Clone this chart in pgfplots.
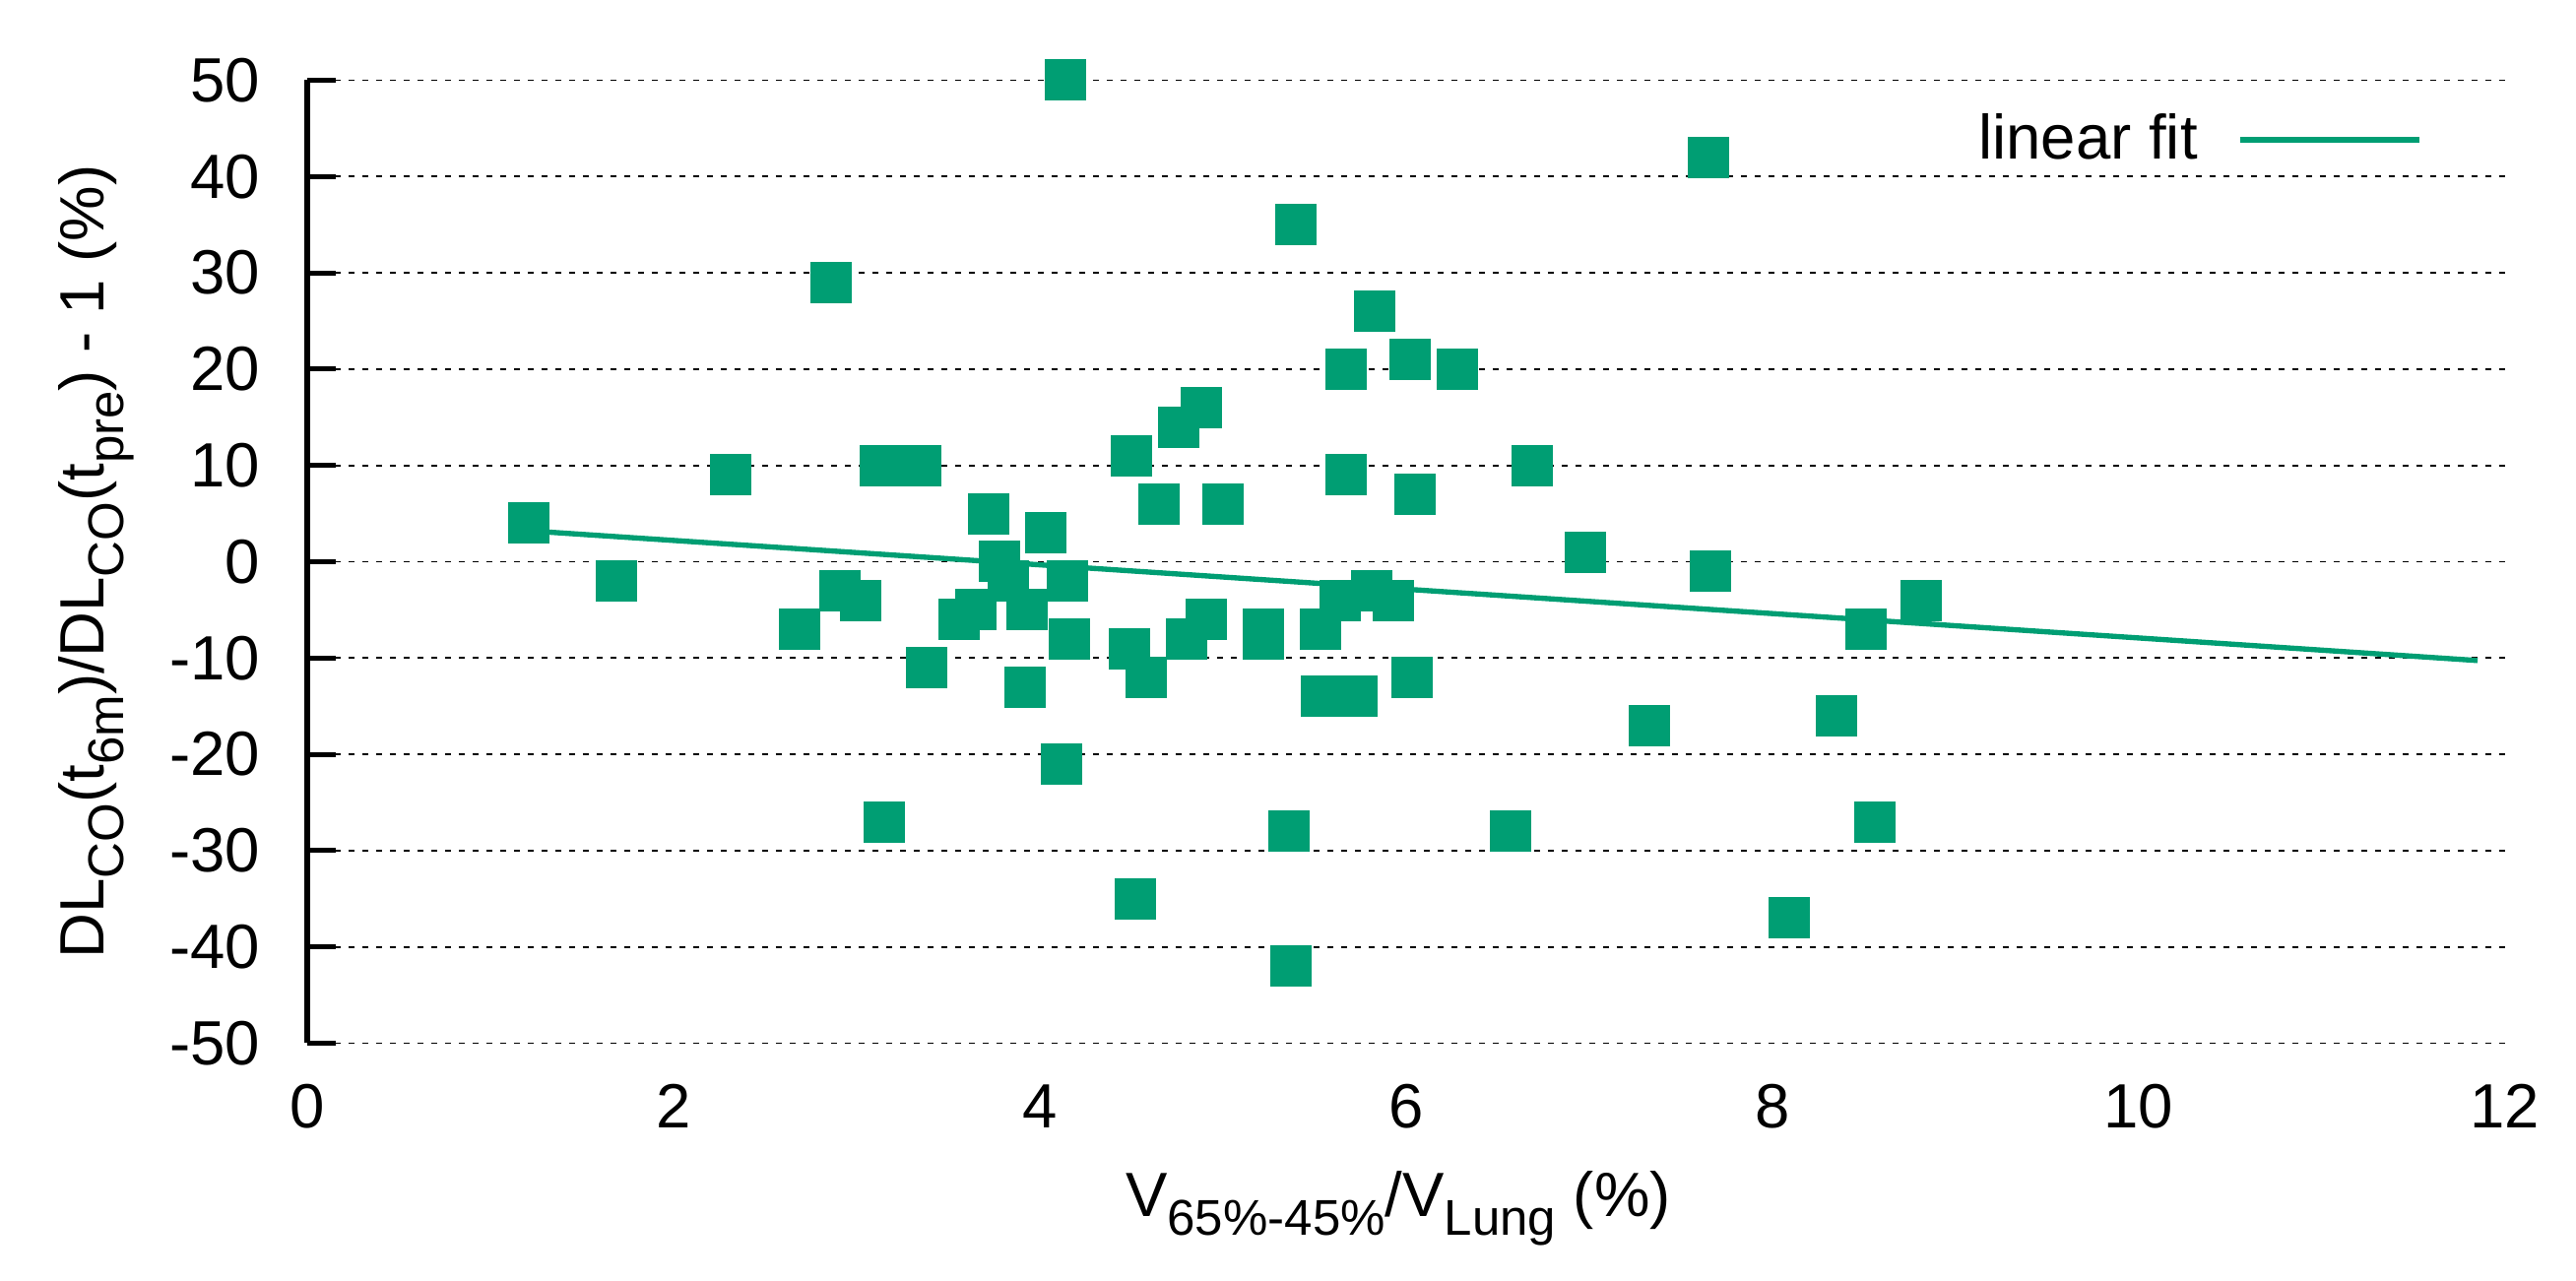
\documentclass[border=0pt]{standalone}
\usepackage{fontspec}
\setmainfont{Liberation Sans}
\usepackage{pgfplots}
\pgfplotsset{compat=1.18}
\definecolor{gnugreen}{HTML}{009E73}
\newcommand{\sub}[1]{\raisebox{-0.3em}{\fontsize{10.2}{12}\selectfont #1}}
\begin{document}
\begin{tikzpicture}
  \useasboundingbox (-62.4pt,-48.3pt) rectangle (460.8pt,211.9pt);
  \begin{axis}[
      scale only axis,
      width=446.4pt,
      height=195.6pt,
      xmin=0, xmax=12,
      ymin=-50, ymax=50,
      axis lines*=left,
      x axis line style={draw=none},
      y axis line style={line width=1.15pt},
      xtick={0,2,4,6,8,10,12},
      xticklabels={0,2,4,6,8,10,12},
      ytick={-50,-40,-30,-20,-10,0,10,20,30,40,50},
      yticklabels={-50,-40,-30,-20,-10,0,10,20,30,40,50},
      xtick style={draw=none},
      ytick style={line width=1pt, black},
      tick align=inside,
      major tick length=5.8pt,
      ymajorgrids,
      grid style={black, line width=0.35pt, dash pattern=on 1.3pt off 1.5pt},
      tick label style={font=\fontsize{12.7}{15}\selectfont},
      xticklabel style={anchor=north, inner sep=0pt, yshift=-8.2pt},
      yticklabel style={anchor=east, inner sep=0pt, xshift=-9.4pt},
      label style={font=\fontsize{12.7}{15}\selectfont},
      xlabel={V\sub{65\%-45\%}/V\sub{Lung} (\%)},
      xlabel style={at={(axis description cs:0.4964,-0.1795)}, anchor=base, inner sep=0pt},
      ylabel={DL\sub{CO}(t\sub{6m})/DL\sub{CO}(t\sub{pre}) - 1 (\%)},
      ylabel style={at={(axis description cs:-0.0923,0.5)}, anchor=base, inner sep=0pt},
      legend style={
        at={(0.962,0.938)},
        anchor=east,
        draw=none,
        fill=none,
        inner sep=0pt,
        outer sep=0pt,
        font=\fontsize{12.7}{15}\selectfont,
        nodes={inner sep=0pt},
        /tikz/column sep=8pt
      },
      legend plot pos=right,
      legend cell align=right,
      legend image code/.code={\draw[#1] (0pt,0pt) -- (36.4pt,0pt);},
    ]
    % fit line
    \addplot[gnugreen, line width=1.07pt, no marks]
      coordinates {(1.21,3.21) (11.85,-10.26)};
    \addlegendentry{linear fit}

    % measured points
    \addplot[
      gnugreen,
      only marks,
      mark=square*,
      mark size=4.1pt,
      mark options={draw=gnugreen, fill=gnugreen, line width=0pt},
      forget plot
    ]
    table[row sep=\\] {
      x     y   \\
      1.21  4   \\
      1.69  -2  \\
      2.31  9   \\
      2.69  -7  \\
      2.86  29  \\
      2.91  -3  \\
      3.02  -4  \\
      3.13  10  \\
      3.15  -27 \\
      3.35  10  \\
      3.38  -11 \\
      3.56  -6  \\
      3.65  -5  \\
      3.72  5   \\
      3.78  0   \\
      3.83  -2  \\
      3.92  -13 \\
      3.93  -5  \\
      4.03  3   \\
      4.12  -21 \\
      4.14  50  \\
      4.15  -2  \\
      4.16  -8  \\
      4.49  -9  \\
      4.50  11  \\
      4.52  -35 \\
      4.58  -12 \\
      4.65  6   \\
      4.76  14  \\
      4.80  -8  \\
      4.88  16  \\
      4.91  -6  \\
      5.00  6   \\
      5.22  -7  \\
      5.22  -8  \\
      5.36  -28 \\
      5.37  -42 \\
      5.40  35  \\
      5.53  -7  \\
      5.54  -14 \\
      5.64  -4  \\
      5.67  20  \\
      5.67  9   \\
      5.73  -14 \\
      5.81  -3  \\
      5.83  26  \\
      5.93  -4  \\
      6.02  21  \\
      6.03  -12 \\
      6.05  7   \\
      6.28  20  \\
      6.57  -28 \\
      6.69  10  \\
      6.98  1   \\
      7.33  -17 \\
      7.65  42  \\
      7.66  -1  \\
      8.09  -37 \\
      8.35  -16 \\
      8.51  -7  \\
      8.56  -27 \\
      8.81  -4  \\
    };
  \end{axis}
\end{tikzpicture}
\end{document}
